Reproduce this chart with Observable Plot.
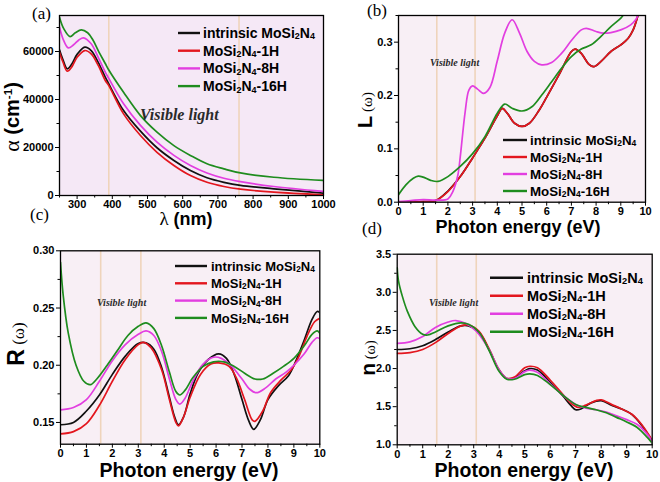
<!DOCTYPE html>
<html><head><meta charset="utf-8">
<script src="https://cdn.jsdelivr.net/npm/d3@7"></script>
<script src="https://cdn.jsdelivr.net/npm/@observablehq/plot@0.6"></script>
<style>
body{margin:0;background:#fff}
#wrap{position:relative;width:660px;height:482px;overflow:hidden;background:#fff}
</style></head><body><div id="wrap"></div>
<script>
// ---------- series names / colours ----------
const names = ["intrinsic MoSi2N4","MoSi2N4-1H","MoSi2N4-8H","MoSi2N4-16H"];
const colors = ["#111111","#e3161e","#e23ee0","#1e8c1e"];
const legendParts = [
  [["intrinsic MoSi"],["2","sub"],["N"],["4","sub"]],
  [["MoSi"],["2","sub"],["N"],["4","sub"],["-1H"]],
  [["MoSi"],["2","sub"],["N"],["4","sub"],["-8H"]],
  [["MoSi"],["2","sub"],["N"],["4","sub"],["-16H"]]
];

// ---------- (a) absorption α vs λ (nm) ----------
const aIntrinsic = [[250,60700],[260,56500],[272,52800],[285,54800],[300,58800],[322,61800],[340,60400],[360,55500],[380,49300],[390,46500],[432,35400],[480,26800],[527,19900],[575,14600],[622,10400],[669,7400],[717,5500],[764,4200],[859,2800],[1000,1000]];
const aH1 = [[250,59700],[260,55500],[272,51800],[285,53600],[300,57600],[322,60400],[340,59000],[360,54200],[380,47900],[390,45800],[432,34000],[480,25000],[527,18000],[575,12500],[622,8300],[669,5500],[717,3750],[764,2650],[859,1400],[1000,300]];
const aH8 = [[250,70100],[262,64500],[275,61500],[290,62800],[305,64800],[318,65700],[340,63200],[360,57600],[380,51400],[390,48800],[432,38200],[480,29200],[527,22200],[575,16700],[622,12500],[669,9400],[717,7200],[764,5800],[859,3750],[1000,1700]];
const aH16 = [[250,74300],[262,69500],[280,66200],[295,67800],[312,69000],[330,67800],[345,64800],[360,60400],[380,55000],[390,52300],[432,43000],[480,33300],[527,26400],[575,20800],[622,16700],[669,13200],[717,11100],[764,9400],[859,7600],[1000,6250]];
const aXTicks = [300,400,500,600,700,800,900,1000];
const aXMinor = [250,350,450,550,650,750,850,950];
const aYTicks = [0,20000,40000,60000];
const aYMinor = [10000,30000,50000,70000];
const aVisible = [390,760];

// ---------- (b) loss L(ω) ----------
const bIntrinsic = [[0,0],[1,0.001],[1.5,0.003],[2,0.021],[2.5,0.048],[3,0.083],[3.5,0.12],[4,0.162],[4.2,0.176],[4.4,0.167],[4.7,0.148],[5,0.142],[5.3,0.148],[5.7,0.173],[6,0.197],[6.5,0.239],[7,0.2825],[7.15,0.287],[7.4,0.279],[7.7,0.259],[7.9,0.254],[8.2,0.264],[8.6,0.2825],[9,0.295],[9.3,0.3075],[9.5,0.323],[9.7,0.351]];
const bH1 = [[0,0],[1,0.001],[1.5,0.003],[2,0.02],[2.5,0.048],[3,0.083],[3.5,0.12],[4,0.162],[4.2,0.176],[4.4,0.167],[4.7,0.148],[5,0.142],[5.3,0.148],[5.7,0.173],[6,0.197],[6.5,0.239],[7,0.2825],[7.15,0.287],[7.4,0.279],[7.7,0.259],[7.9,0.254],[8.2,0.264],[8.6,0.2825],[9,0.295],[9.3,0.3075],[9.5,0.323],[9.7,0.351]];
const bH8 = [[0,0.001],[0.5,0.003],[1,0.005],[1.5,0.004],[2,0.006],[2.2,0.02],[2.4,0.05],[2.5,0.085],[2.7,0.17],[2.85,0.21],[3.0,0.218],[3.2,0.212],[3.45,0.204],[3.7,0.215],[4.0,0.265],[4.3,0.317],[4.6,0.342],[4.9,0.317],[5.2,0.283],[5.5,0.264],[5.8,0.2575],[6.2,0.262],[6.6,0.279],[7.0,0.303],[7.4,0.323],[7.6,0.326],[8.0,0.32],[8.3,0.317],[8.6,0.318],[9.0,0.323],[9.4,0.3325],[9.6,0.342],[9.7,0.351]];
const bH16 = [[0,0.014],[0.3,0.0325],[0.6,0.045],[0.8,0.049],[1.0,0.047],[1.3,0.041],[1.6,0.039],[2.0,0.048],[2.5,0.067],[3.0,0.091],[3.5,0.123],[4.0,0.167],[4.3,0.184],[4.6,0.176],[5.0,0.171],[5.4,0.179],[5.8,0.201],[6.2,0.226],[6.6,0.251],[7.0,0.273],[7.4,0.287],[7.8,0.295],[8.2,0.311],[8.6,0.329],[9.0,0.345],[9.1,0.351]];
const eTicks = [0,1,2,3,4,5,6,7,8,9,10];
const eMinor = [0.5,1.5,2.5,3.5,4.5,5.5,6.5,7.5,8.5,9.5];
const bYTicks = [0,0.1,0.2,0.3];
const bYMinor = [0.05,0.15,0.25,0.35];
const eVisible = [1.55,3.1];

// ---------- (c) reflectivity R(ω) ----------
const cIntrinsic = [[0,0.148],[0.5,0.150],[1.0,0.160],[1.5,0.174],[2.0,0.192],[2.5,0.208],[3.0,0.219],[3.3,0.2195],[3.6,0.214],[3.9,0.198],[4.2,0.172],[4.4,0.155],[4.55,0.148],[4.75,0.155],[5.0,0.175],[5.3,0.193],[5.7,0.205],[6.1,0.210],[6.4,0.206],[6.7,0.192],[7.0,0.170],[7.25,0.152],[7.45,0.144],[7.7,0.152],[8.0,0.170],[8.4,0.182],[8.8,0.191],[9.1,0.205],[9.4,0.222],[9.7,0.240],[9.9,0.247],[10,0.246]];
const cH1 = [[0,0.140],[0.5,0.142],[1.0,0.149],[1.5,0.165],[2.0,0.186],[2.5,0.205],[3.0,0.218],[3.2,0.220],[3.5,0.215],[3.9,0.196],[4.2,0.170],[4.45,0.150],[4.55,0.147],[4.75,0.155],[5.0,0.172],[5.4,0.192],[5.8,0.201],[6.1,0.202],[6.5,0.199],[6.8,0.188],[7.1,0.170],[7.4,0.152],[7.5,0.151],[7.8,0.160],[8.1,0.176],[8.5,0.187],[8.9,0.196],[9.2,0.208],[9.5,0.225],[9.8,0.238],[10,0.241]];
const cH8 = [[0,0.161],[0.5,0.163],[1.0,0.170],[1.5,0.186],[2.0,0.204],[2.5,0.218],[3.0,0.227],[3.3,0.230],[3.6,0.226],[3.9,0.212],[4.2,0.188],[4.45,0.170],[4.6,0.166],[4.8,0.171],[5.1,0.186],[5.5,0.201],[5.9,0.207],[6.2,0.206],[6.6,0.199],[7.0,0.188],[7.3,0.179],[7.55,0.176],[7.9,0.180],[8.3,0.188],[8.7,0.194],[9.0,0.200],[9.4,0.210],[9.7,0.220],[9.9,0.224],[10,0.223]];
const cH16 = [[0,0.290],[0.1,0.262],[0.3,0.228],[0.6,0.200],[0.9,0.186],[1.15,0.183],[1.4,0.188],[1.8,0.200],[2.2,0.213],[2.6,0.226],[3.0,0.234],[3.3,0.237],[3.6,0.232],[3.9,0.217],[4.2,0.194],[4.45,0.177],[4.6,0.174],[4.8,0.178],[5.1,0.189],[5.5,0.199],[5.9,0.203],[6.3,0.203],[6.7,0.199],[7.1,0.193],[7.5,0.188],[7.8,0.188],[8.2,0.193],[8.6,0.199],[9.0,0.206],[9.4,0.217],[9.7,0.227],[9.9,0.230],[10,0.228]];
const cYTicks = [0.15,0.20,0.25,0.30];
const cYMinor = [0.175,0.225,0.275];

// ---------- (d) refractive index n(ω) ----------
const dIntrinsic = [[0,2.25],[0.5,2.26],[1.0,2.30],[1.5,2.38],[2.0,2.48],[2.5,2.56],[2.8,2.56],[3.2,2.48],[3.6,2.25],[4.0,1.98],[4.3,1.87],[4.6,1.88],[5.0,1.97],[5.2,2.00],[5.5,1.98],[6.0,1.82],[6.5,1.64],[6.8,1.52],[7.0,1.46],[7.2,1.47],[7.6,1.55],[8.0,1.58],[8.4,1.52],[8.8,1.47],[9.2,1.40],[9.6,1.25],[10,1.05]];
const dH1 = [[0,2.20],[0.5,2.21],[1.0,2.25],[1.5,2.34],[2.0,2.46],[2.5,2.56],[2.8,2.57],[3.2,2.49],[3.6,2.26],[4.0,1.98],[4.3,1.87],[4.6,1.89],[5.0,2.01],[5.2,2.03],[5.5,2.01],[6.0,1.85],[6.5,1.66],[6.8,1.55],[7.1,1.49],[7.4,1.52],[7.8,1.58],[8.0,1.59],[8.4,1.53],[8.8,1.47],[9.2,1.40],[9.6,1.26],[10,1.06]];
const dH8 = [[0,2.33],[0.5,2.35],[1.0,2.42],[1.5,2.54],[2.0,2.61],[2.3,2.63],[2.7,2.59],[3.1,2.49],[3.6,2.25],[4.0,1.98],[4.3,1.87],[4.6,1.87],[5.0,1.96],[5.2,1.98],[5.5,1.95],[6.0,1.80],[6.5,1.65],[7.0,1.53],[7.4,1.48],[7.8,1.46],[8.2,1.43],[8.6,1.38],[9.0,1.33],[9.4,1.27],[9.8,1.14],[10,1.04]];
const dH16 = [[0,3.32],[0.05,3.15],[0.2,2.95],[0.4,2.75],[0.7,2.55],[1.0,2.45],[1.2,2.44],[1.5,2.48],[2.0,2.56],[2.5,2.60],[2.8,2.58],[3.2,2.48],[3.6,2.24],[4.0,1.96],[4.3,1.86],[4.6,1.86],[5.0,1.92],[5.2,1.93],[5.5,1.91],[6.0,1.79],[6.5,1.65],[7.0,1.53],[7.4,1.49],[7.8,1.46],[8.2,1.42],[8.6,1.36],[9.0,1.30],[9.4,1.23],[9.8,1.10],[10,1.02]];
const dYTicks = [1.0,1.5,2.0,2.5,3.0,3.5];
const dYMinor = [1.25,1.75,2.25,2.75,3.25];

// ---------- drawing ----------
const SANS = "Liberation Sans, Arial, Helvetica, sans-serif";
const SERIF = "Liberation Serif, Times New Roman, serif";
const W = 330, H = 241;
const wrap = document.getElementById("wrap");

function rows(list){ return list.flatMap((arr,i)=>arr.map(([x,y])=>({x,y,s:names[i]}))); }

function rich(parent, x, y, parts, size, opts={}) {
  const t = parent.append("text").attr("x", x).attr("y", y)
    .attr("font-size", size).attr("font-family", opts.family || SANS)
    .attr("font-weight", opts.weight || "bold").attr("fill", opts.fill || "#000")
    .attr("text-anchor", opts.anchor || "start");
  if (opts.italic) t.attr("font-style", "italic");
  if (opts.transform) t.attr("transform", opts.transform);
  let cur = 0;
  for (const p of parts) {
    const [txt, kind, scale] = p;
    const s = t.append("tspan").text(txt);
    let off = 0, fs = size;
    if (kind === "sub") { fs = size*0.64; off = size*0.1; }
    else if (kind === "sup") { fs = size*0.58; off = -size*0.36; }
    else if (kind === "serif") { s.attr("font-family", SERIF).attr("font-weight","normal"); fs = (scale||1)*size; }
    s.attr("font-size", fs);
    if (off !== cur) s.attr("dy", off - cur);
    cur = off;
  }
  return t;
}

function panel(cfg) {
  const svg = Plot.plot({
    width: W, height: H,
    marginLeft: cfg.ml, marginRight: cfg.mr, marginTop: cfg.mt, marginBottom: cfg.mb,
    style: {background: "transparent", overflow: "visible", fontFamily: SANS, fontSize: "11px", fontWeight: "bold", color: "#000"},
    x: {domain: cfg.xd, label: null},
    y: {domain: cfg.yd, label: null},
    color: {domain: names, range: colors},
    marks: [
      Plot.frame({fill: cfg.bg, stroke: "none"}),
      Plot.ruleX(cfg.vis, {stroke: "#efd4bb", strokeWidth: 1.6}),
      Plot.line(rows(cfg.series), {x: "x", y: "y", z: "s", stroke: "s", strokeWidth: 1.7, curve: "catmull-rom", clip: true}),
      Plot.axisX({ticks: cfg.xt, tickSize: 4, tickPadding: 1, tickFormat: d => String(d), label: null, stroke: "#000"}),
      Plot.axisX({ticks: cfg.xm, tickSize: 2.5, tickFormat: () => "", label: null, stroke: "#000"}),
      Plot.axisY({ticks: cfg.yt, tickSize: 4, tickPadding: 2, tickFormat: cfg.yf, label: null, stroke: "#000"}),
      Plot.axisY({ticks: cfg.ym, tickSize: 2.5, tickFormat: () => "", label: null, stroke: "#000"}),
      Plot.frame({stroke: "#000", strokeWidth: 1.3})
    ]
  });
  svg.style.position = "absolute";
  svg.style.left = cfg.left + "px";
  svg.style.top = cfg.top + "px";
  wrap.appendChild(svg);
  const g = d3.select(svg).append("g");
  // legend
  const L = cfg.legend;
  names.forEach((n, i) => {
    const y = L.y0 + i*L.dy;
    g.append("line").attr("x1", L.x1).attr("x2", L.x2).attr("y1", y).attr("y2", y)
      .attr("stroke", colors[i]).attr("stroke-width", 2.4);
    rich(g, L.tx, y + L.size*0.36, legendParts[i], L.size);
  });
  // visible light annotation
  rich(g, cfg.vl.x, cfg.vl.y, [["Visible light"]], cfg.vl.size, {family: SERIF, italic: true, fill: "#2a2a2a"});
  // axis titles
  const xt = cfg.xTitle;
  rich(g, xt.x, xt.y, xt.parts, xt.size, {anchor: "middle"});
  const yt = cfg.yTitle;
  rich(g, 0, 0, yt.parts, yt.size, {anchor: "middle", transform: `translate(${yt.bx},${yt.y}) rotate(-90)`});
  // panel letters
  (cfg.letters || []).forEach(l => rich(g, l.x, l.y, [[l.t]], 17, {family: SERIF, weight: "normal"}));
  return svg;
}

const pE = [["Photon energy (eV)"]];

panel({
  left: 0, top: 0, ml: 59, mr: 7, mt: 15, mb: 46,
  xd: [250, 1000], yd: [0, 75000], bg: "#f5e8f6",
  xt: aXTicks, xm: aXMinor, yt: aYTicks, ym: aYMinor, yf: d => String(d),
  vis: aVisible, series: [aIntrinsic, aH1, aH8, aH16],
  legend: {x1: 178, x2: 200, tx: 203, y0: 33, dy: 17.7, size: 14},
  vl: {x: 140, y: 120, size: 16},
  xTitle: {x: 186, y: 225, size: 18, parts: [["λ", "serif", 1.05], [" (nm)"]]},
  yTitle: {bx: 19, y: 117, size: 20, parts: [["α", "serif", 1.1], [" (cm"], ["-1", "sup"], [")"]]},
  letters: [{t: "(a)", x: 32, y: 19}, {t: "(c)", x: 30, y: 220}]
});

panel({
  left: 330, top: 0, ml: 68, mr: 15, mt: 15, mb: 39.3,
  xd: [0, 10], yd: [0, 0.35], bg: "#f8eff5",
  xt: eTicks, xm: eMinor, yt: bYTicks, ym: bYMinor, yf: d3.format(".1f"),
  vis: eVisible, series: [bIntrinsic, bH1, bH8, bH16],
  legend: {x1: 173, x2: 197, tx: 200, y0: 140, dy: 17, size: 13.3},
  vl: {x: 100, y: 66, size: 10},
  xTitle: {x: 188, y: 233, size: 18, parts: pE},
  yTitle: {bx: 42, y: 110, size: 20, parts: [["L"], [" (ω)", "serif", 0.75]]},
  letters: [{t: "(b)", x: 37, y: 16}, {t: "(d)", x: 32, y: 234}]
});

panel({
  left: 0, top: 241, ml: 60, mr: 10.7, mt: 9.3, mb: 38.3,
  xd: [0, 10], yd: [0.131, 0.30], bg: "#f8eff5",
  xt: eTicks, xm: eMinor, yt: cYTicks, ym: cYMinor, yf: d3.format(".2f"),
  vis: eVisible, series: [cIntrinsic, cH1, cH8, cH16],
  legend: {x1: 175, x2: 207, tx: 211, y0: 25, dy: 17.3, size: 13},
  vl: {x: 97, y: 64.5, size: 10},
  xTitle: {x: 189, y: 236, size: 19.5, parts: pE},
  yTitle: {bx: 24, y: 103, size: 23, parts: [["R"], [" (ω)", "serif", 0.74]]}
});

panel({
  left: 330, top: 241, ml: 66.7, mr: 8.3, mt: 12.7, mb: 37.7,
  xd: [0, 10], yd: [1.0, 3.5], bg: "#f8eff5",
  xt: eTicks, xm: eMinor, yt: dYTicks, ym: dYMinor, yf: d3.format(".1f"),
  vis: eVisible, series: [dIntrinsic, dH1, dH8, dH16],
  legend: {x1: 160, x2: 193, tx: 197, y0: 36.7, dy: 18, size: 14.5},
  vl: {x: 99, y: 64.5, size: 10},
  xTitle: {x: 194, y: 236, size: 19.5, parts: pE},
  yTitle: {bx: 45, y: 117, size: 21, parts: [["n"], [" (ω)", "serif", 0.68]]}
});
</script></body></html>
